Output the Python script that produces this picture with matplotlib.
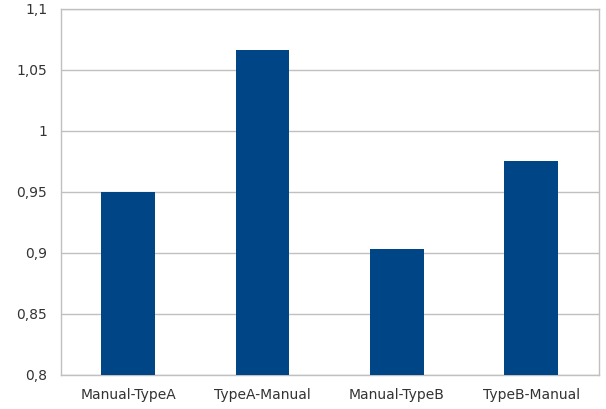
import matplotlib
matplotlib.use("Agg")
import matplotlib.pyplot as plt
from matplotlib.ticker import FuncFormatter

categorias = ["Manual-TypeA", "TypeA-Manual", "Manual-TypeB", "TypeB-Manual"]
valores = [0.95, 1.066, 0.903, 0.975]
yticks = [0.8, 0.85, 0.9, 0.95, 1.0, 1.05, 1.1]

plt.rcParams['font.family'] = ['DejaVu Sans']

fig = plt.figure(figsize=(6.06, 4.09), dpi=100)
ax = fig.add_axes([61/606, 34.5/409, 537.5/606, 365.6/409])

x = list(range(len(categorias)))
ax.bar(x, valores, width=0.4, color="#004586", zorder=3)

ax.set_ylim(0.8, 1.1)
ax.set_xlim(-0.5, 3.5)
ax.set_yticks(yticks)
ax.yaxis.set_major_formatter(FuncFormatter(lambda v, p: ("%g" % round(v, 2)).replace(".", ",")))
ax.set_xticks(x)
ax.set_xticklabels(categorias)

ax.grid(axis="y", color="#c0c0c0", linewidth=1, zorder=0)
for s in ax.spines.values():
    s.set_color("#c0c0c0")
    s.set_linewidth(1)
ax.tick_params(axis="both", length=0, labelsize=10, colors="#333333")
ax.tick_params(axis="y", pad=10)
ax.tick_params(axis="x", pad=10)

fig.savefig("out.png", dpi=100)
